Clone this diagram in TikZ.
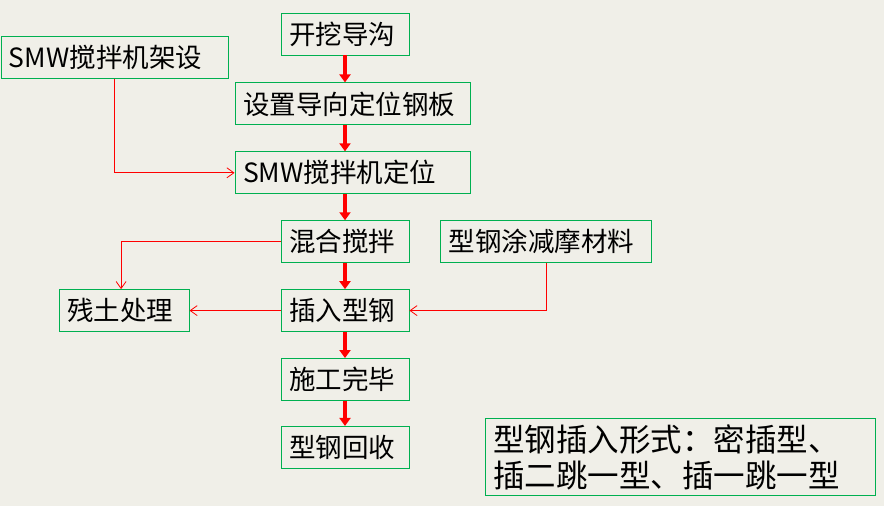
\documentclass[tikz,border=0pt]{standalone}
\usepackage{fontspec}
\setmainfont{Noto Sans CJK SC}
\usepackage{tikz}
\usetikzlibrary{arrows.meta, positioning}
\definecolor{boxgreen}{RGB}{0,176,80}
\definecolor{paper}{RGB}{240,239,232}

\begin{document}
\begin{tikzpicture}[x=1pt, y=-1pt,
		box/.style={rectangle, draw=boxgreen, line width=0.9pt, minimum height=42pt,
			inner xsep=8pt, inner ysep=0pt, align=left, font=\fontsize{26.5}{30}\selectfont},
		mainarrow/.style={-{Triangle[width=11pt,length=8pt]}, line width=3.6pt, draw=red},
		sidearrow/.style={-{Straight Barb[width=10pt,length=7pt]}, line width=0.8pt, draw=red},
		]

		% Background and fan
		\fill[paper] (0,0) rectangle (884,506);
		\useasboundingbox (0,0) rectangle (884,506);
		\fill[white, opacity=0.45] (560,600) ++(15:150) arc[start angle=15, end angle=165, radius=150]
			-- ++(165:250) arc[start angle=165, end angle=15, radius=400] -- cycle;
		\foreach \a in {21,33,...,165}
			\draw[black!40, opacity=0.15, line width=0.6pt] (560,600) ++(\a:150) -- ++(\a:250);

		% Blocks
		\node[box, text width=112pt] (kaiwa) at (345,34) {开挖导沟};
		\node[box, text width=219pt, below=27pt of kaiwa, xshift=7.5pt] (shezhi) {设置导向定位钢板};
		\node[box, text width=219pt, below=26pt of shezhi] (dingwei) {SMW搅拌机定位};
		\node[box, text width=112pt, below=26pt of dingwei, xshift=-7.5pt] (hunhe) {混合搅拌};
		\node[box, text width=112pt, below=26pt of hunhe] (charu) {插入型钢};
		\node[box, text width=112pt, below=26pt of charu] (wanbi) {施工完毕};
		\node[box, text width=112pt, below=25pt of wanbi] (huishou) {型钢回收};

		\node[box, text width=211pt] (jiashe) at (114.5,57.5) {SMW搅拌机架设};
		\node[box, text width=195pt, right=31pt of hunhe] (tumo) {型钢涂减摩材料};
		\node[box, text width=114pt, left=91pt of charu] (cantu) {残土处理};

		% Note
		\node[box, text width=374pt, inner ysep=6pt, font=\fontsize{31.5}{36}\selectfont] (note) at (680,457)
			{型钢插入形式：密插型、\\插二跳一型、插一跳一型};

		% Arrows
		\draw[mainarrow] (kaiwa.south) -- (kaiwa.south |- shezhi.north);
		\draw[mainarrow] (kaiwa.south |- shezhi.south) -- (kaiwa.south |- dingwei.north);
		\draw[mainarrow] (hunhe.north |- dingwei.south) -- (hunhe.north);
		\draw[mainarrow] (hunhe) -- (charu);
		\draw[mainarrow] (charu) -- (wanbi);
		\draw[mainarrow] (wanbi) -- (huishou);

		\draw[sidearrow] (jiashe.south) |- (dingwei.west);
		\draw[sidearrow] (hunhe.west) -| ([xshift=-3pt]cantu.north);
		\draw[sidearrow] (charu.west) -- (cantu.east);
		\draw[sidearrow] (tumo.south) |- (charu.east);
	\end{tikzpicture}
\end{document}
